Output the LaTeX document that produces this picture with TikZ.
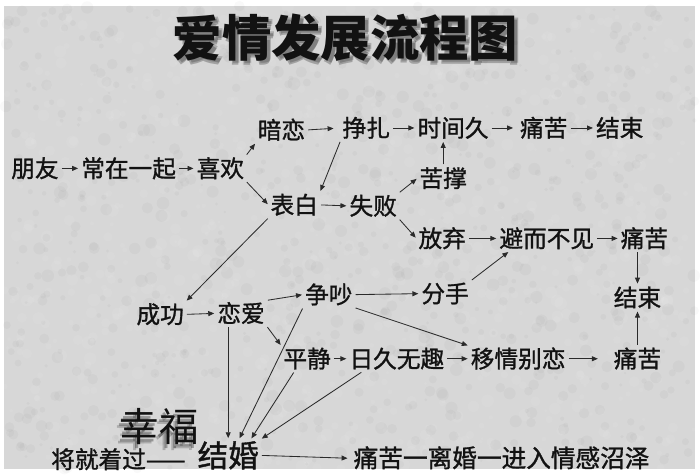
\documentclass[tikz,border=0pt]{standalone}
\usepackage{fontspec}
\newfontfamily\cjk{Noto Sans CJK SC}
\newfontfamily\cjkm{Noto Sans CJK SC}[FakeBold=1.2]
\usetikzlibrary{arrows.meta,calc}
\definecolor{paper}{RGB}{215,215,215}
\definecolor{ink}{RGB}{18,18,18}
\tikzset{
  lbl/.style={font=\cjkm\fontsize{24}{24}\selectfont, text=ink, inner sep=2pt, text height=20pt, text depth=2pt},
  big/.style={font=\cjkm\fontsize{31}{31}\selectfont, text=ink, inner sep=2pt, text height=26pt, text depth=2.5pt},
  huge/.style={font=\cjk\fontsize{40}{40}\selectfont, inner sep=2pt, text height=34pt, text depth=3pt},
  ttl/.style={font=\cjk\bfseries\fontsize{50}{50}\selectfont, inner sep=0pt, text height=42pt, text depth=4pt},
  arr/.style={draw=ink!90, line width=0.85pt, -{Triangle[length=6pt,width=5pt]}, shorten <=1pt, shorten >=1pt},
}
\begin{document}
\begin{tikzpicture}[x=1pt,y=-1pt]
\fill[paper] (0,0) rectangle (700,470);
\pgfmathsetseed{7}
\foreach \i in {1,...,900}{
  \fill[white, opacity=0.06] (rnd*700, rnd*470) circle[radius=1.5+rnd*5];
  \fill[black, opacity=0.025] (rnd*700, rnd*470) circle[radius=1.5+rnd*5];
}
\useasboundingbox (0,0) rectangle (700,470);
% title with shadow
\node[ttl, text=black, opacity=0.25] (tsh1) at (349,37) {爱情发展流程图};
\node[ttl, text=black, opacity=0.2] (tsh2) at (350,35) {爱情发展流程图};
\node[ttl, text=ink] (title) at (346,33) {爱情发展流程图};
% top
\node[lbl] (pengyou) at (31,165) {朋友};
\node[lbl] (changzai) at (126,165) {常在一起};
\node[lbl] (xihuan) at (219,165) {喜欢};
\node[lbl] (anlian) at (281,126) {暗恋};
\node[lbl] (zhengzha) at (367,124) {挣扎};
\node[lbl] (shijian) at (455,124) {时间久};
\node[lbl] (tongku1) at (547,124) {痛苦};
\node[lbl] (jieshu1) at (624,124) {结束};
\node[lbl] (kucheng) at (445,175) {苦撑};
\node[lbl] (biaobai) at (294,202) {表白};
\node[lbl] (shibai) at (374,203) {失败};
\node[lbl] (fangqi) at (444,236) {放弃};
\node[lbl] (bier) at (550,236) {避而不见};
\node[lbl] (tongku2) at (649,236) {痛苦};
\node[lbl] (jieshu2) at (642,296) {结束};
\node[lbl] (tongku3) at (642,358) {痛苦};
% middle
\node[lbl] (chenggong) at (158,313) {成功};
\node[lbl] (lianai) at (240,312) {恋爱};
\node[lbl] (zhengchao) at (329,293) {争吵};
\node[lbl] (fenshou) at (447,292) {分手};
\node[lbl] (pingjing) at (307,358) {平静};
\node[lbl] (rijiu) at (398,358) {日久无趣};
\node[lbl] (yiqing) at (521,358) {移情别恋};
% bottom
\node[huge, text=black, opacity=0.3] (xfsh1) at (155,430) {幸福};
\node[huge, text=black, opacity=0.2] (xfsh2) at (153,432) {幸福};
\node[huge, text=ink] (xingfu) at (157,426) {幸福};
\node[big] (jiehun) at (227,456) {结婚};
\node[lbl, anchor=east] (jiangjiu) at (186,460) {将就着过——};
\node[lbl, font=\cjkm\fontsize{25}{25}\selectfont, anchor=west] (tail) at (352,459) {痛苦一离婚一进入情感沼泽};
% arrows top
\draw[arr] (pengyou.east) -- (changzai.west);
\draw[arr] (changzai.east) -- (xihuan.west);
\draw[arr] (xihuan.north east) -- (anlian.south west);
\draw[arr] (xihuan.south east) -- (biaobai.west);
\draw[arr, shorten >=7pt] (anlian.east) -- (zhengzha.west);
\draw[arr] (zhengzha.east) -- (shijian.west);
\draw[arr, shorten >=5pt] (shijian.east) -- (tongku1.west);
\draw[arr] (tongku1.east) -- (jieshu1.west);
\draw[arr] (zhengzha.south west) -- (biaobai.north east);
\draw[arr] (kucheng.north) -- (kucheng.north |- shijian.south);
\draw[arr] (biaobai.east) -- (shibai.west);
\draw[arr] (shibai.north east) -- (kucheng.west);
\draw[arr] (shibai.south east) -- (fangqi.west);
\draw[arr] (fangqi.east) -- (bier.west);
\draw[arr] (bier.east) -- (tongku2.west);
\draw[arr] (jieshu2.north |- tongku2.south) -- (jieshu2.north);
\draw[arr] (tongku3.north) -- (jieshu2.south);
% arrows middle
\draw[arr] (biaobai.south west) -- (chenggong.north east);
\draw[arr] (chenggong.east) -- (lianai.west);
\draw[arr] (lianai.north east) -- (zhengchao.west);
\draw[arr] (lianai.south east) -- (pingjing.north west);
\draw[arr] (zhengchao.east) -- (fenshou.west);
\draw[arr] (zhengchao.south east) -- (yiqing.north west);
\draw[arr] (fenshou.north east) -- ([xshift=12pt]bier.south west);
\draw[arr] (pingjing.east) -- (rijiu.west);
\draw[arr] (rijiu.east) -- (yiqing.west);
\draw[arr, shorten >=14pt] (yiqing.east) -- (tongku3.west);
% arrows to marriage
\draw[arr] (jiehun.north |- lianai.south) -- (jiehun.north);
\draw[arr] (zhengchao.south west) -- ([xshift=11pt]jiehun.north);
\draw[arr] ($(pingjing.south west)!0.25!(pingjing.south east)$) -- ([xshift=23pt]jiehun.north);
\draw[arr] ([xshift=15pt]rijiu.south west) -- (jiehun.north east);
\draw[arr, shorten >=4pt] (jiehun.east) -- (tail.west);
\end{tikzpicture}
\end{document}
